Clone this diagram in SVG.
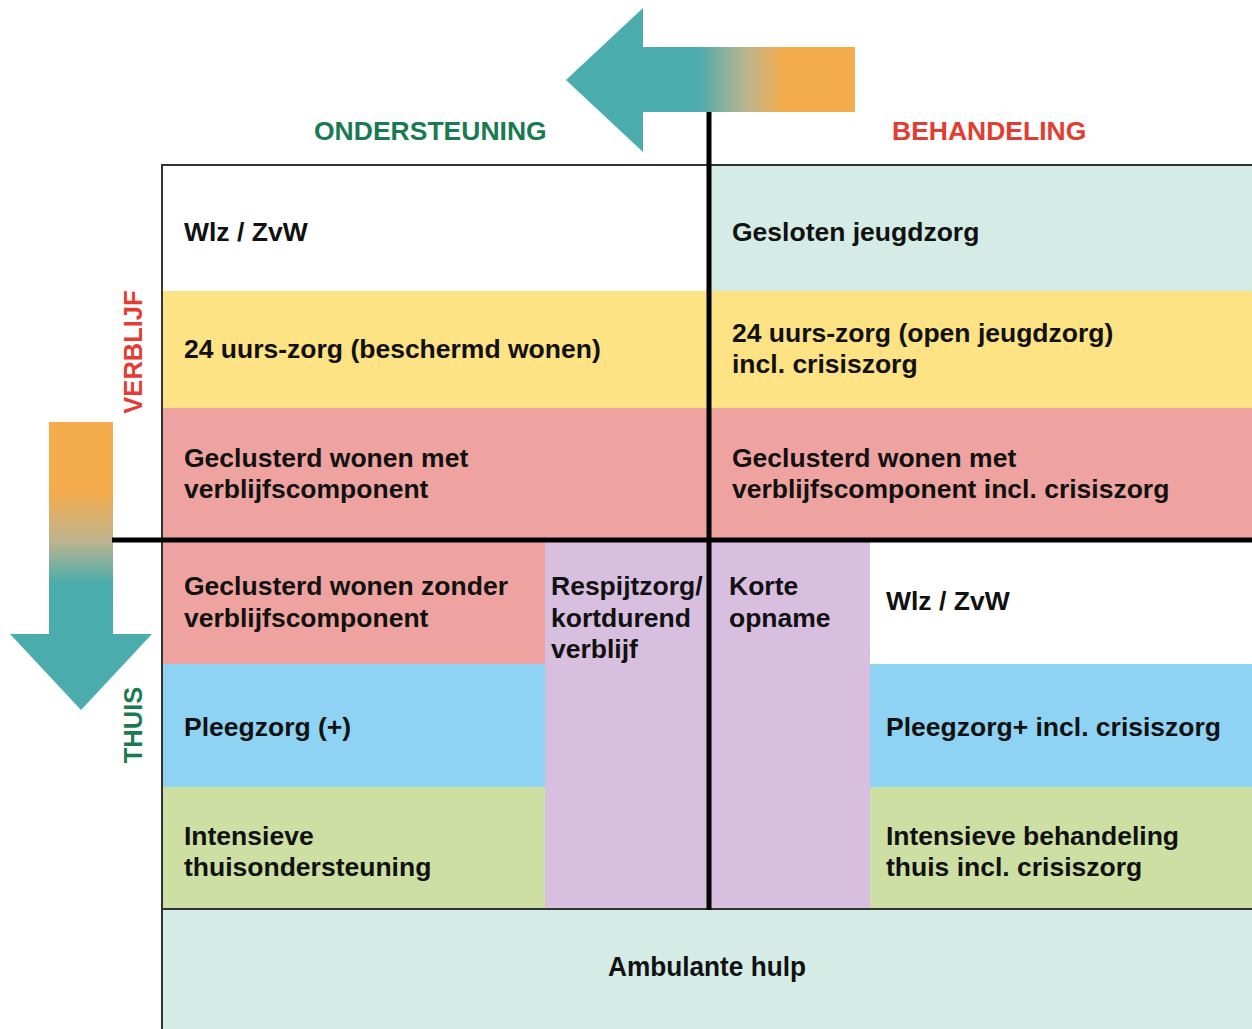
<svg xmlns="http://www.w3.org/2000/svg" width="1252" height="1029" viewBox="0 0 1252 1029">
<defs>
<linearGradient id="gH" x1="566" y1="0" x2="855" y2="0" gradientUnits="userSpaceOnUse">
<stop offset="0" stop-color="#4aacac"/>
<stop offset="0.455" stop-color="#4aacac"/>
<stop offset="0.62" stop-color="#b9b48f"/>
<stop offset="0.755" stop-color="#f5ac4c"/>
<stop offset="1" stop-color="#f5ac4c"/>
</linearGradient>
<linearGradient id="gV" x1="0" y1="422" x2="0" y2="710" gradientUnits="userSpaceOnUse">
<stop offset="0" stop-color="#f5ac4c"/>
<stop offset="0.24" stop-color="#f5ac4c"/>
<stop offset="0.42" stop-color="#b9b48f"/>
<stop offset="0.56" stop-color="#4aacac"/>
<stop offset="1" stop-color="#4aacac"/>
</linearGradient>
</defs>
<style>
.t{font-family:"Liberation Sans",Arial,sans-serif;font-weight:bold;font-size:26.5px;fill:#111}
.h{font-family:"Liberation Sans",Arial,sans-serif;font-weight:bold;font-size:26.5px}
.v{font-family:"Liberation Sans",Arial,sans-serif;font-weight:bold;font-size:25.5px}
.thin{stroke:#333;stroke-width:2;fill:none}
.thick{stroke:#000;stroke-width:5;fill:none}
</style>
<rect width="1252" height="1029" fill="#fff"/>
<g id="arrows">
<polygon points="566,80 643,8 643,47 855,47 855,112 643,112 643,152" fill="url(#gH)"/>
<polygon points="49,422 113,422 113,634 152,634 81,710 10,634 49,634" fill="url(#gV)"/>
</g>
<g id="headers">
<text class="h" x="314" y="140" fill="#1a7a52">ONDERSTEUNING</text>
<text class="h" x="892" y="140" fill="#e43c30">BEHANDELING</text>
<text class="v" transform="translate(142,352) rotate(-90)" text-anchor="middle" fill="#e43c30">VERBLIJF</text>
<text class="v" transform="translate(142,725) rotate(-90)" text-anchor="middle" fill="#1a7a52">THUIS</text>
</g>
<g id="n-wlz-left"><rect x="161" y="165" width="548" height="126" fill="#fff"/><text class="t" x="184" y="241">Wlz / ZvW</text></g>
<g id="n-gesloten"><rect x="709" y="165" width="543" height="126" fill="#d5ebe6"/><text class="t" x="732" y="241">Gesloten jeugdzorg</text></g>
<g id="n-24-left"><rect x="161" y="291" width="548" height="117" fill="#fde384"/><text class="t" x="184" y="358">24 uurs-zorg (beschermd wonen)</text></g>
<g id="n-24-right"><rect x="709" y="291" width="543" height="117" fill="#fde384"/><text class="t" x="732" y="342">24 uurs-zorg (open jeugdzorg)</text><text class="t" x="732" y="373">incl. crisiszorg</text></g>
<g id="n-geclust-left"><rect x="161" y="408" width="548" height="133" fill="#efa3a0"/><text class="t" x="184" y="467">Geclusterd wonen met</text><text class="t" x="184" y="498">verblijfscomponent</text></g>
<g id="n-geclust-right"><rect x="709" y="408" width="543" height="133" fill="#efa3a0"/><text class="t" x="732" y="467">Geclusterd wonen met</text><text class="t" x="732" y="498">verblijfscomponent incl. crisiszorg</text></g>
<g id="n-zonder"><rect x="161" y="541" width="384" height="123" fill="#efa3a0"/><text class="t" x="184" y="595">Geclusterd wonen zonder</text><text class="t" x="184" y="627">verblijfscomponent</text></g>
<g id="n-respijt"><rect x="545" y="541" width="164" height="368" fill="#d9bfdf"/><text class="t" x="551" y="595">Respijtzorg/</text><text class="t" x="551" y="627">kortdurend</text><text class="t" x="551" y="658">verblijf</text></g>
<g id="n-korte"><rect x="709" y="541" width="161" height="368" fill="#d9bfdf"/><text class="t" x="729" y="595">Korte</text><text class="t" x="729" y="627">opname</text></g>
<g id="n-wlz-right"><rect x="870" y="541" width="382" height="123" fill="#fff"/><text class="t" x="886" y="610">Wlz / ZvW</text></g>
<g id="n-pleeg-left"><rect x="161" y="664" width="384" height="123" fill="#8fd3f4"/><text class="t" x="184" y="736">Pleegzorg (+)</text></g>
<g id="n-pleeg-right"><rect x="870" y="664" width="382" height="123" fill="#8fd3f4"/><text class="t" x="886" y="736">Pleegzorg+ incl. crisiszorg</text></g>
<g id="n-intens-left"><rect x="161" y="787" width="384" height="122" fill="#cddfa3"/><text class="t" x="184" y="845">Intensieve</text><text class="t" x="184" y="876">thuisondersteuning</text></g>
<g id="n-intens-right"><rect x="870" y="787" width="382" height="122" fill="#cddfa3"/><text class="t" x="886" y="845">Intensieve behandeling</text><text class="t" x="886" y="876">thuis incl. crisiszorg</text></g>
<g id="n-ambulant"><rect x="161" y="909" width="1091" height="120" fill="#d5ebe6"/><text class="t" x="707" y="976" text-anchor="middle" textLength="198" lengthAdjust="spacingAndGlyphs" style="font-size:27px">Ambulante hulp</text></g>
<g id="connectors">
<line class="thin" x1="161" y1="165" x2="1252" y2="165"/>
<line class="thin" x1="162" y1="164" x2="162" y2="1029"/>
<line class="thin" x1="161" y1="909" x2="1252" y2="909"/>
<line class="thick" x1="112" y1="540" x2="1252" y2="540"/>
<line class="thick" x1="709" y1="112" x2="709" y2="910"/>
</g>
</svg>
